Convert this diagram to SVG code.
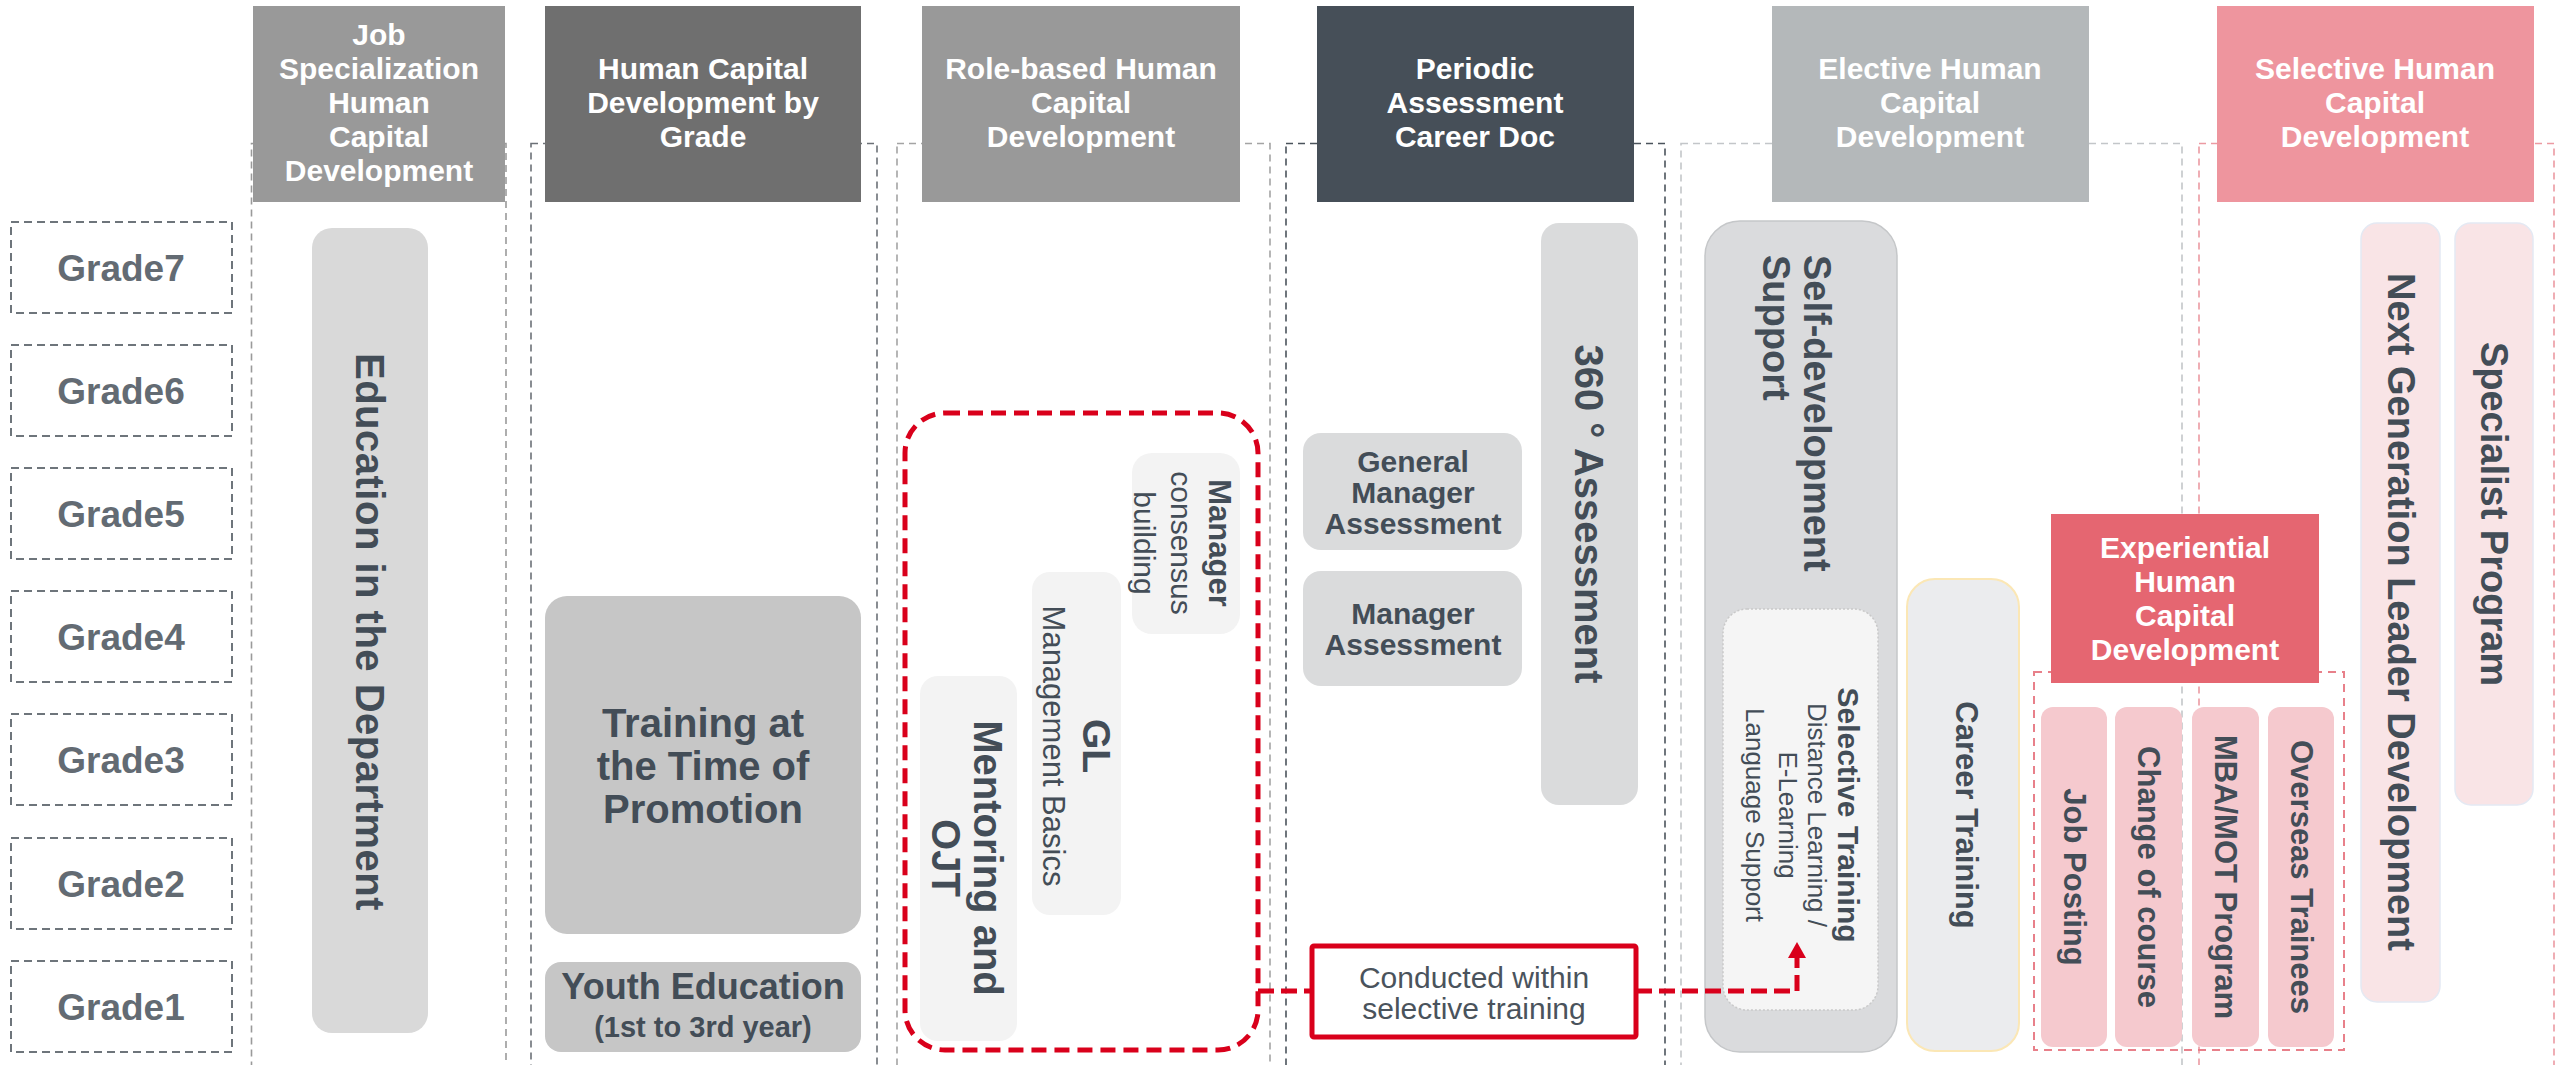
<svg xmlns="http://www.w3.org/2000/svg" width="2566" height="1065" viewBox="0 0 2566 1065">
<defs>
<style>
text{font-family:"Liberation Sans",Arial,sans-serif}
.gbox{fill:none;stroke:#6e757b;stroke-width:2;stroke-dasharray:8 5}
.gtxt{font-size:37px;font-weight:bold;fill:#636b73;text-anchor:middle}
.col{fill:none;stroke-width:1.6;stroke-dasharray:7 5}
.htxt{font-size:30px;font-weight:bold;fill:#fff;text-anchor:middle}
.dk{fill:#434d57}
.b{font-weight:bold}
.c{text-anchor:middle;dominant-baseline:central}
.s{text-anchor:start;dominant-baseline:central}
.pill{fill:#f3f3f3}
.asm{fill:#dadbdc}
.pink{fill:#f5c9ce}
.lpink{fill:#f9e4e6;stroke:#e4e9f3;stroke-width:1.5}
.red{fill:none;stroke:#d9001b}
</style>
<marker id="arr" viewBox="0 0 16 18" refX="0" refY="9" markerWidth="16" markerHeight="18" markerUnits="userSpaceOnUse" orient="auto">
<path d="M0,0 L16,9 L0,18 z" fill="#d9001b"/>
</marker>
</defs>
<rect width="2566" height="1065" fill="#fff"/>

<g id="columns">
<rect class="col" x="251.5" y="143.5" width="254.5" height="1000" stroke="#9a9a9a"/>
<rect class="col" x="531" y="143.5" width="346" height="1000" stroke="#6c7177"/>
<rect class="col" x="897" y="143.5" width="373" height="1000" stroke="#a4a4a4"/>
<rect class="col" x="1286" y="143.5" width="379" height="1000" stroke="#4b545c"/>
<rect class="col" x="1681" y="143.5" width="501" height="1000" stroke="#c3c6c9"/>
<rect class="col" x="2199" y="143.5" width="355" height="1000" stroke="#ec9aa2"/>
</g>

<g id="grades">
<g id="grade7"><rect class="gbox" x="11" y="222" width="221" height="91"/><text class="gtxt" x="121" y="281">Grade7</text></g>
<g id="grade6"><rect class="gbox" x="11" y="345" width="221" height="91"/><text class="gtxt" x="121" y="404">Grade6</text></g>
<g id="grade5"><rect class="gbox" x="11" y="468" width="221" height="91"/><text class="gtxt" x="121" y="527">Grade5</text></g>
<g id="grade4"><rect class="gbox" x="11" y="591" width="221" height="91"/><text class="gtxt" x="121" y="650">Grade4</text></g>
<g id="grade3"><rect class="gbox" x="11" y="714" width="221" height="91"/><text class="gtxt" x="121" y="773">Grade3</text></g>
<g id="grade2"><rect class="gbox" x="11" y="838" width="221" height="91"/><text class="gtxt" x="121" y="897">Grade2</text></g>
<g id="grade1"><rect class="gbox" x="11" y="961" width="221" height="91"/><text class="gtxt" x="121" y="1020">Grade1</text></g>
</g>

<g id="header-job"><rect x="253" y="6" width="252" height="196" fill="#999"/>
<text class="htxt"><tspan x="379" y="45">Job</tspan><tspan x="379" y="79">Specialization</tspan><tspan x="379" y="113">Human</tspan><tspan x="379" y="147">Capital</tspan><tspan x="379" y="181">Development</tspan></text></g>
<g id="header-grade"><rect x="545" y="6" width="316" height="196" fill="#6f6f6f"/>
<text class="htxt"><tspan x="703" y="79">Human Capital</tspan><tspan x="703" y="113">Development by</tspan><tspan x="703" y="147">Grade</tspan></text></g>
<g id="header-role"><rect x="922" y="6" width="318" height="196" fill="#999"/>
<text class="htxt"><tspan x="1081" y="79">Role-based Human</tspan><tspan x="1081" y="113">Capital</tspan><tspan x="1081" y="147">Development</tspan></text></g>
<g id="header-periodic"><rect x="1317" y="6" width="317" height="196" fill="#464f58"/>
<text class="htxt"><tspan x="1475" y="79">Periodic</tspan><tspan x="1475" y="113">Assessment</tspan><tspan x="1475" y="147">Career Doc</tspan></text></g>
<g id="header-elective"><rect x="1772" y="6" width="317" height="196" fill="#b4b8ba"/>
<text class="htxt"><tspan x="1930" y="79">Elective Human</tspan><tspan x="1930" y="113">Capital</tspan><tspan x="1930" y="147">Development</tspan></text></g>
<g id="header-selective"><rect x="2217" y="6" width="317" height="196" fill="#ee959e"/>
<text class="htxt"><tspan x="2375" y="79">Selective Human</tspan><tspan x="2375" y="113">Capital</tspan><tspan x="2375" y="147">Development</tspan></text></g>

<g id="education-dept"><rect x="312" y="228" width="116" height="805" rx="20" fill="#d9d9d9"/>
<g transform="translate(370,632) rotate(90)"><text class="c b dk" font-size="40" letter-spacing="0.5">Education in the Department</text></g></g>

<g id="training-promotion"><rect x="545" y="596" width="316" height="338" rx="22" fill="#c6c6c6"/>
<text class="b dk" font-size="40" text-anchor="middle"><tspan x="703" y="737">Training at</tspan><tspan x="703" y="780">the Time of</tspan><tspan x="703" y="823">Promotion</tspan></text></g>
<g id="youth-education"><rect x="545" y="962" width="316" height="90" rx="16" fill="#c6c6c6"/>
<text class="b dk" font-size="36" text-anchor="middle" x="703" y="999">Youth Education</text>
<text class="b dk" font-size="29" text-anchor="middle" x="703" y="1037">(1st to 3rd year)</text></g>

<g id="selective-group"><rect x="905" y="413" width="353" height="637" rx="40" class="red" stroke-width="5" stroke-dasharray="15 8"/></g>

<g id="manager-consensus"><rect class="pill" x="1132" y="453" width="108" height="181" rx="20"/>
<g transform="translate(1182,543) rotate(90)"><text class="c dk"><tspan class="b" font-size="31" x="0" y="-38">Manager</tspan><tspan font-size="30" x="0" y="0">consensus</tspan><tspan font-size="30" x="0" y="37">building</tspan></text></g></g>
<g id="gl-basics"><rect class="pill" x="1032" y="572" width="89" height="343" rx="18"/>
<g transform="translate(1075,746) rotate(90)"><text class="c dk"><tspan class="b" font-size="39" x="0" y="-22">GL</tspan><tspan font-size="31" x="0" y="21">Management Basics</tspan></text></g></g>
<g id="mentoring-ojt"><rect class="pill" x="920" y="676" width="97" height="365" rx="18"/>
<g transform="translate(967,858) rotate(90)"><text class="c b dk" font-size="40"><tspan x="0" y="-21">Mentoring and</tspan><tspan x="0" y="21">OJT</tspan></text></g></g>

<g id="gm-assessment"><rect class="asm" x="1303" y="433" width="219" height="117" rx="18"/>
<text class="b dk" font-size="30" text-anchor="middle"><tspan x="1413" y="472">General</tspan><tspan x="1413" y="503">Manager</tspan><tspan x="1413" y="534">Assessment</tspan></text></g>
<g id="manager-assessment"><rect class="asm" x="1303" y="571" width="219" height="115" rx="18"/>
<text class="b dk" font-size="30" text-anchor="middle"><tspan x="1413" y="624">Manager</tspan><tspan x="1413" y="655">Assessment</tspan></text></g>
<g id="assessment-360"><rect class="asm" x="1541" y="223" width="97" height="582" rx="18"/>
<g transform="translate(1589,514) rotate(90)"><text class="c b dk" font-size="40">360 ° Assessment</text></g></g>

<g id="self-development"><rect x="1705" y="221" width="192" height="831" rx="35" fill="#dadbdd" stroke="#c5c7c9" stroke-width="1.5"/>
<g transform="translate(1796,255) rotate(90)"><text class="s b dk" font-size="38"><tspan x="0" y="-21">Self-development</tspan><tspan x="0" y="20">Support</tspan></text></g></g>
<g id="selective-training"><rect x="1723" y="609" width="155" height="401" rx="24" fill="#f5f5f5" stroke="#c9c9c9" stroke-width="1.5" stroke-dasharray="2 2"/>
<g transform="translate(1802,815) rotate(90)"><text class="c dk"><tspan class="b" font-size="30" x="0" y="-47">Selective Training</tspan><tspan font-size="26" x="0" y="-15">Distance Learning /</tspan><tspan font-size="26" x="0" y="14">E-Learning</tspan><tspan font-size="26" x="0" y="47">Language Support</tspan></text></g></g>
<g id="career-training"><rect x="1907" y="579" width="112" height="472" rx="28" fill="#ebecee" stroke="#fbe7b5" stroke-width="2"/>
<g transform="translate(1966,815) rotate(90)"><text class="c b dk" font-size="31">Career Training</text></g></g>

<g id="experiential"><rect x="2034" y="672" width="310" height="378" fill="none" stroke="#e8808a" stroke-width="2" stroke-dasharray="8 6"/>
<rect x="2051" y="514" width="268" height="169" fill="#e56671"/>
<text class="htxt"><tspan x="2185" y="558">Experiential</tspan><tspan x="2185" y="592">Human</tspan><tspan x="2185" y="626">Capital</tspan><tspan x="2185" y="660">Development</tspan></text></g>
<g id="job-posting"><rect class="pink" x="2041" y="707" width="66" height="340" rx="12"/>
<g transform="translate(2074,877) rotate(90)"><text class="c b dk" font-size="31">Job Posting</text></g></g>
<g id="change-course"><rect class="pink" x="2115" y="707" width="67" height="340" rx="12"/>
<g transform="translate(2148,877) rotate(90)"><text class="c b dk" font-size="31">Change of course</text></g></g>
<g id="mba-mot"><rect class="pink" x="2192" y="707" width="67" height="340" rx="12"/>
<g transform="translate(2225,877) rotate(90)"><text class="c b dk" font-size="31">MBA/MOT Program</text></g></g>
<g id="overseas"><rect class="pink" x="2268" y="707" width="66" height="340" rx="12"/>
<g transform="translate(2301,877) rotate(90)"><text class="c b dk" font-size="31">Overseas Trainees</text></g></g>

<g id="next-gen"><rect class="lpink" x="2361" y="223" width="79" height="779" rx="16"/>
<g transform="translate(2401,612) rotate(90)"><text class="c b dk" font-size="38">Next Generation Leader Development</text></g></g>
<g id="specialist"><rect class="lpink" x="2455" y="223" width="78" height="582" rx="16"/>
<g transform="translate(2494,514) rotate(90)"><text class="c b dk" font-size="38">Specialist Program</text></g></g>

<g id="connectors">
<path d="M1258,991 H1312 M1636,991 H1797 V958" class="red" stroke-width="5" stroke-dasharray="16 7" marker-end="url(#arr)"/>
</g>

<g id="conducted-note"><rect x="1312" y="946" width="324" height="91" rx="2" fill="#fff" stroke="#d9001b" stroke-width="5"/>
<text font-size="30" fill="#4a535c" text-anchor="middle"><tspan x="1474" y="988">Conducted within</tspan><tspan x="1474" y="1019">selective training</tspan></text></g>
</svg>
